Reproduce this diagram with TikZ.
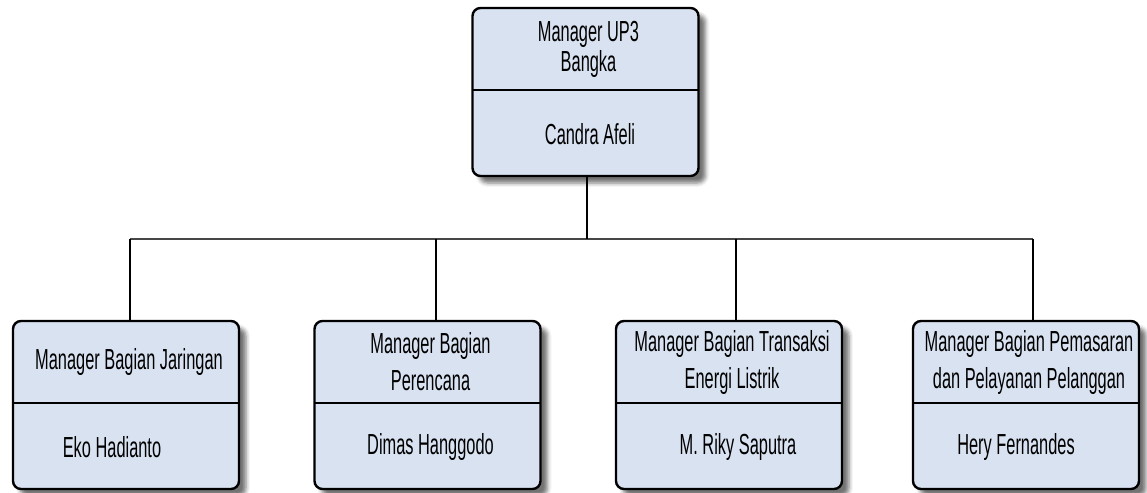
\documentclass[tikz,border=0pt]{standalone}
\usepackage{fontspec}
\usetikzlibrary{shadows.blur}
\newfontfamily\orgfont[FakeStretch=0.565]{Liberation Sans}
\definecolor{boxfill}{RGB}{217,226,241}
\definecolor{busgray}{RGB}{70,70,70}
\tikzset{
  orgbox/.style={draw, line width=2.4pt, rounded corners=8pt, fill=boxfill,
    minimum width=226pt, minimum height=168pt, inner sep=0pt, outer sep=0pt,
    blur shadow={shadow xshift=7pt, shadow yshift=-7pt, shadow blur radius=4pt, shadow opacity=55}},
  divider/.style={line width=2.6pt},
  titletext/.style={align=center, inner sep=0pt, xshift=3pt, font=\orgfont\fontsize{29pt}{37pt}\selectfont},
  persontext/.style={inner sep=0pt, font=\orgfont\fontsize{29pt}{34pt}\selectfont},
  busline/.style={line width=2pt, draw=busgray},
  connector/.style={line width=1.6pt}
}
\newcommand{\orgbox}[6]{
  \node[orgbox] (#1) at (#2,#3) {};
  \draw[divider] ([yshift=2pt]#1.west) -- ([yshift=2pt]#1.east);
  \node[titletext] (#1-title) at ([yshift=43pt]#1.center) {#4};
  \node[persontext] (#1-name) at ([xshift=#6pt,yshift=-42pt]#1.center) {#5};
}
\begin{document}
\begin{tikzpicture}[x=1pt,y=-1pt]
\useasboundingbox (0,0) rectangle (1147,492);
% boxes
\orgbox{up3}{585.5}{92}{Manager UP3\\[-7pt]Bangka}{Candra Afeli}{4.5}
\orgbox{jar}{126}{405}{Manager Bagian Jaringan}{Eko Hadianto}{-14}
\orgbox{ren}{427.5}{405}{Manager Bagian\\Perencana}{Dimas Hanggodo}{3}
\orgbox{tel}{729}{405}{Manager Bagian Transaksi\\Energi Listrik}{M. Riky Saputra}{9}
\orgbox{pem}{1026}{405}{Manager Bagian Pemasaran\\dan Pelayanan Pelanggan}{Hery Fernandes}{-10}
% connectors
\coordinate (bus) at (587,239);
\foreach \n/\s in {jar/4, ren/8.5, tel/7, pem/7}{
  \coordinate (\n-top) at ([xshift=\s pt]\n.north);
}
\draw[busline] (jar-top |- bus) -- (pem-top |- bus);
\draw[connector] ([xshift=1.5pt]up3.south) -- (bus);
\foreach \n in {jar, ren, tel, pem}{
  \draw[connector] (\n-top) -- (\n-top |- bus);
}
\end{tikzpicture}
\end{document}
